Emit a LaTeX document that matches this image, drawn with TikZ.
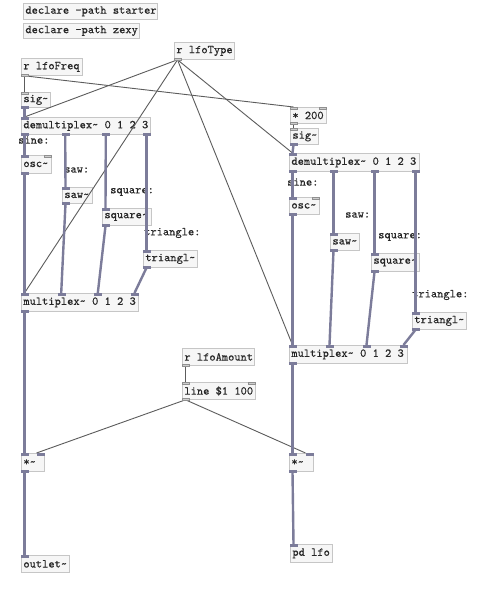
\documentclass[tikz,border=0pt]{standalone}
\usepackage{fontspec}
\newfontfamily\pdmono{lmmono10-regular}[Extension=.otf, FakeBold=0.4]
\usetikzlibrary{calc}
\definecolor{boxc}{HTML}{C6C6C6}
\definecolor{boxf}{HTML}{F6F6F6}
\definecolor{sigc}{HTML}{7C7C9A}
\definecolor{ctlc}{HTML}{5C5C5C}
\definecolor{iolc}{HTML}{909090}
\newcommand\pdfnt{\pdmono\fontsize{11.9}{12}\selectfont}
\newcommand\pdbox[5]{\node[obj, minimum height=#4] (#1) at (#2) {\makebox[#3][l]{#5}};}
\newcommand\ioin[3]{\filldraw[#3] ($(#1.north west)+(#2,0)$) rectangle ++(7,2);}
\newcommand\ioout[3]{\filldraw[#3] ($(#1.south west)+(#2,-2)$) rectangle ++(7,2);}
\newcommand\conn[5]{\draw[#5] ($(#1.south west)+(#2+3.5,0)$) -- ($(#3.north west)+(#4+3.5,0)$);}
\tikzset{
  obj/.style={draw=boxc, fill=boxf, line width=0.8pt, anchor=north west,
    inner xsep=2pt, inner ysep=0pt, font=\pdfnt, text=black!85},
  cmt/.style={anchor=west, inner sep=0pt, font=\pdfnt, text=black!85},
  sio/.style={fill=sigc, draw=sigc, line width=0.3pt},
  cio/.style={fill=iolc!45, draw=iolc, line width=0.6pt},
  sigw/.style={draw=sigc, line width=2.4pt},
  ctlw/.style={draw=ctlc, line width=0.9pt},
}
\begin{document}
\begin{tikzpicture}[x=1pt,y=-1pt]
\fill[white] (0,0) rectangle (479,589);
\useasboundingbox (0,0) rectangle (479,589);
% boxes
\pdbox{decl1}{23,3}{130pt}{16pt}{declare -path starter}
\pdbox{decl2}{23,23}{112pt}{15pt}{declare -path zexy}
\pdbox{rfreq}{21,58}{57pt}{17pt}{r lfoFreq}
\pdbox{sigL}{21,92}{25pt}{15pt}{sig\textasciitilde}
\pdbox{demL}{21,117}{125pt}{17pt}{demultiplex\textasciitilde{} 0 1 2 3}
\pdbox{oscL}{21,155}{26pt}{18pt}{osc\textasciitilde}
\pdbox{sawL}{62,187}{26pt}{16pt}{saw\textasciitilde}
\pdbox{sqL}{102,208}{45pt}{17pt}{square\textasciitilde}
\pdbox{triL}{143,250}{50pt}{17pt}{triangl\textasciitilde}
\pdbox{muxL}{21,293}{113pt}{18pt}{multiplex\textasciitilde{} 0 1 2 3}
\pdbox{rtype}{174,42}{56pt}{17pt}{r lfoType}
\pdbox{m200}{290,107}{32pt}{16pt}{* 200}
\pdbox{sigR}{290,128}{24pt}{16pt}{sig\textasciitilde}
\pdbox{demR}{289,153}{126pt}{18pt}{demultiplex\textasciitilde{} 0 1 2 3}
\pdbox{oscR}{289,197}{26pt}{17pt}{osc\textasciitilde}
\pdbox{sawR}{330,233}{25pt}{17pt}{saw\textasciitilde}
\pdbox{sqR}{371,253}{44pt}{18pt}{square\textasciitilde}
\pdbox{triR}{412,312}{50pt}{17pt}{triangl\textasciitilde}
\pdbox{muxR}{289,345}{114pt}{18pt}{multiplex\textasciitilde{} 0 1 2 3}
\pdbox{ramt}{182,348}{68pt}{17pt}{r lfoAmount}
\pdbox{line}{182,382}{69pt}{17pt}{line \$1 100}
\pdbox{mulL}{21,453}{19pt}{18pt}{*\textasciitilde}
\pdbox{mulR}{289,453}{20pt}{18pt}{*\textasciitilde}
\pdbox{outl}{21,555}{44pt}{17pt}{outlet\textasciitilde}
\pdbox{pdlfo}{290,544}{38pt}{18pt}{pd lfo}
% comments
\node[cmt] (c1) at (18,140) {sine:};
\node[cmt] (c2) at (64,170) {saw:};
\node[cmt] (c3) at (110,192) {square:};
\node[cmt] (c4) at (144,233) {triangle:};
\node[cmt] (c5) at (287,182) {sine:};
\node[cmt] (c6) at (345,215) {saw:};
\node[cmt] (c7) at (378,237) {square:};
\node[cmt] (c8) at (412,295) {triangle:};
% control connections
\conn{rfreq}{0}{sigL}{0}{ctlw}
\conn{rfreq}{0}{m200}{0}{ctlw}
\conn{rtype}{0}{demL}{0}{ctlw}
\conn{rtype}{0}{muxL}{0}{ctlw}
\conn{rtype}{0}{demR}{0}{ctlw}
\conn{rtype}{0}{muxR}{0}{ctlw}
\conn{m200}{0}{sigR}{0}{ctlw}
\conn{ramt}{0}{line}{0}{ctlw}
\conn{line}{0}{mulL}{12}{ctlw}
\conn{line}{0}{mulR}{13}{ctlw}
% signal connections
\conn{sigL}{0}{demL}{0}{sigw}
\conn{demL}{0}{oscL}{0}{sigw}
\conn{demL}{40.7}{sawL}{0}{sigw}
\conn{demL}{81.3}{sqL}{0}{sigw}
\conn{demL}{122}{triL}{0}{sigw}
\conn{oscL}{0}{muxL}{0}{sigw}
\conn{sawL}{0}{muxL}{36.7}{sigw}
\conn{sqL}{0}{muxL}{73.3}{sigw}
\conn{triL}{0}{muxL}{110}{sigw}
\conn{muxL}{0}{mulL}{0}{sigw}
\conn{mulL}{0}{outl}{0}{sigw}
\conn{sigR}{0}{demR}{0}{sigw}
\conn{demR}{0}{oscR}{0}{sigw}
\conn{demR}{41}{sawR}{0}{sigw}
\conn{demR}{82}{sqR}{0}{sigw}
\conn{demR}{123}{triR}{0}{sigw}
\conn{oscR}{0}{muxR}{0}{sigw}
\conn{sawR}{0}{muxR}{37}{sigw}
\conn{sqR}{0}{muxR}{74}{sigw}
\conn{triR}{0}{muxR}{111}{sigw}
\conn{muxR}{0}{mulR}{0}{sigw}
\conn{mulR}{0}{pdlfo}{0}{sigw}
% iolets
\ioout{rfreq}{0}{cio}
\ioin{sigL}{0}{cio}\ioout{sigL}{0}{sio}
\ioin{demL}{0}{sio}
\ioout{demL}{0}{sio}\ioout{demL}{40.7}{sio}\ioout{demL}{81.3}{sio}\ioout{demL}{122}{sio}
\ioin{oscL}{0}{sio}\ioin{oscL}{23}{cio}\ioout{oscL}{0}{sio}
\ioin{sawL}{0}{sio}\ioout{sawL}{0}{sio}
\ioin{sqL}{0}{sio}\ioout{sqL}{0}{sio}
\ioin{triL}{0}{sio}\ioout{triL}{0}{sio}
\ioin{muxL}{0}{sio}\ioin{muxL}{36.7}{sio}\ioin{muxL}{73.3}{sio}\ioin{muxL}{110}{sio}
\ioout{muxL}{0}{sio}
\ioout{rtype}{0}{cio}
\ioin{m200}{0}{cio}\ioin{m200}{29}{cio}\ioout{m200}{0}{cio}
\ioin{sigR}{0}{cio}\ioout{sigR}{0}{sio}
\ioin{demR}{0}{sio}
\ioout{demR}{0}{sio}\ioout{demR}{41}{sio}\ioout{demR}{82}{sio}\ioout{demR}{123}{sio}
\ioin{oscR}{0}{sio}\ioin{oscR}{23}{cio}\ioout{oscR}{0}{sio}
\ioin{sawR}{0}{sio}\ioout{sawR}{0}{sio}
\ioin{sqR}{0}{sio}\ioout{sqR}{0}{sio}
\ioin{triR}{0}{sio}\ioout{triR}{0}{sio}
\ioin{muxR}{0}{sio}\ioin{muxR}{37}{sio}\ioin{muxR}{74}{sio}\ioin{muxR}{111}{sio}
\ioout{muxR}{0}{sio}
\ioout{ramt}{0}{cio}
\ioin{line}{0}{cio}\ioin{line}{66}{cio}\ioout{line}{0}{cio}
\ioin{mulL}{0}{sio}\ioin{mulL}{16}{sio}\ioout{mulL}{0}{sio}
\ioin{mulR}{0}{sio}\ioin{mulR}{17}{sio}\ioout{mulR}{0}{sio}
\ioin{outl}{0}{sio}
\ioin{pdlfo}{0}{sio}
\end{tikzpicture}
\end{document}
